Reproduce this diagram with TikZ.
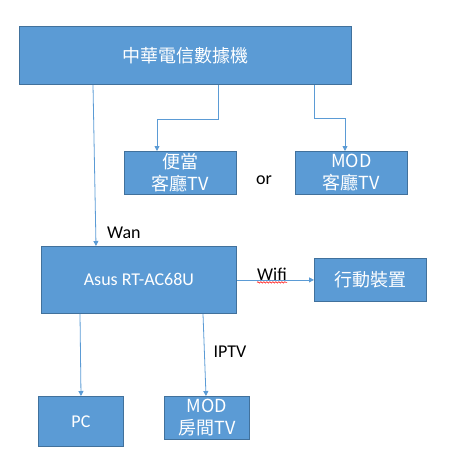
\documentclass[tikz,border=0pt]{standalone}
\usepackage{fontspec}
\setmainfont{Carlito}
\newfontfamily\cjk{Noto Sans CJK TC}
\usetikzlibrary{arrows.meta,decorations.pathmorphing}

\definecolor{boxfill}{HTML}{5B9BD5}
\definecolor{boxline}{HTML}{41719C}

\tikzset{
    box/.style={draw=boxline, fill=boxfill, line width=0.8pt, text=white,
        inner sep=0pt, align=center, anchor=north west},
    link/.style={draw=boxfill, line width=0.8pt, -{Triangle[length=5pt,width=5pt]}},
    lbl/.style={font=\fontsize{18}{20}\selectfont, inner sep=0pt}
}

\begin{document}
\begin{tikzpicture}[x=1pt, y=-1pt]
    \useasboundingbox (0,0) rectangle (458,467);

    \node[box, minimum width=332pt, minimum height=58pt,
        font=\cjk\fontsize{18}{20}\selectfont] (modem) at (19,26) {中華電信數據機};
    \node[box, minimum width=112pt, minimum height=43pt,
        font=\cjk\fontsize{18}{22}\selectfont] (tv-living1) at (124,151) {便當\\客廳TV};
    \node[box, minimum width=112pt, minimum height=43pt,
        font=\cjk\fontsize{18}{22}\selectfont] (tv-living2) at (295,151) {MOD\\客廳TV};
    \node[lbl] (or) at (264,180) {or};

    \node[box, minimum width=195pt, minimum height=67pt,
        font=\fontsize{18}{20}\selectfont] (router) at (41,246) {Asus RT-AC68U};
    \node[box, minimum width=112pt, minimum height=43pt,
        font=\cjk\fontsize{18}{20}\selectfont] (mobile) at (314,258) {行動裝置};
    \node[box, minimum width=85pt, minimum height=50pt,
        font=\fontsize{18}{20}\selectfont] (pc) at (38,396) {PC};
    \node[box, minimum width=85pt, minimum height=43pt,
        font=\cjk\fontsize{18}{22}\selectfont] (tv-room) at (164,396) {MOD\\房間TV};

    % modem outputs
    \draw[link] ([xshift=74pt]modem.south west) -- ([xshift=55pt]router.north west)
        node[lbl, pos=0.92, right=11pt] (wan) {Wan};
    \draw[link] ([xshift=199pt]modem.south west) -- ++(0,35)
        -| ([xshift=33pt]tv-living1.north west);
    \draw[link] ([xshift=295pt]modem.south west) -- ++(0,34)
        -| ([xshift=50pt]tv-living2.north west);

    % router outputs
    \draw[link] (router.east) -- (mobile.west);
    \node[lbl] (wifi) at (272,274) {Wifi};
    \draw[red, line width=0.5pt, decorate,
        decoration={snake, amplitude=0.8pt, segment length=3pt}]
        ([yshift=-2pt]wifi.south west) -- ([yshift=-2pt]wifi.south east);
    \draw[link] ([xshift=39pt]router.south west) -- ([xshift=43pt]pc.north west);
    \draw[link] ([xshift=162pt]router.south west) -- ([xshift=42pt]tv-room.north west);
    \node[lbl] (iptv) at (230,352) {IPTV};
\end{tikzpicture}
\end{document}
